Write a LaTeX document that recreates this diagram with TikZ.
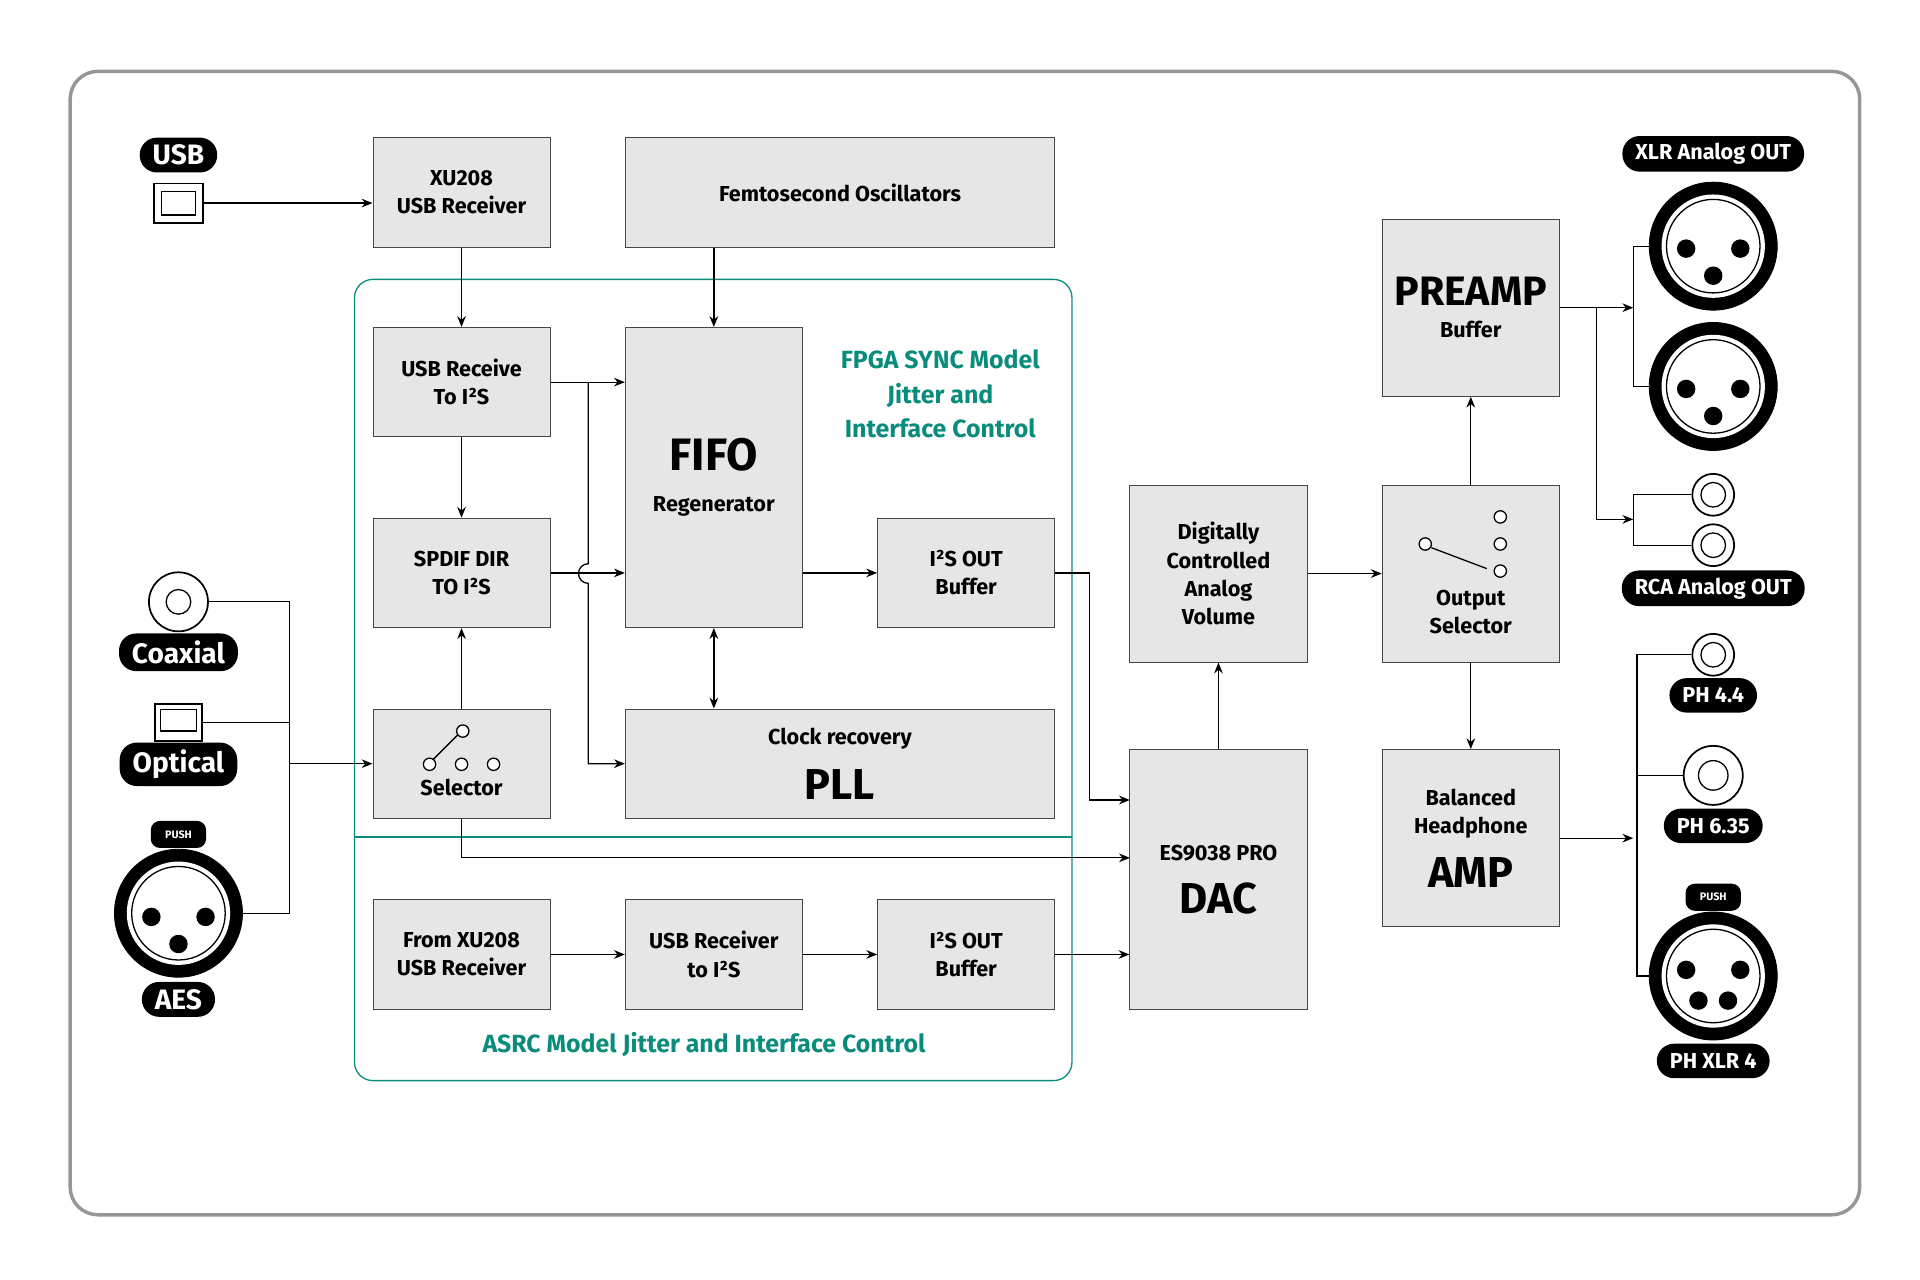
\documentclass[tikz,border=0pt]{standalone}
\usepackage{fontspec}
\setmainfont{Fira Sans}
\usetikzlibrary{arrows.meta, positioning}
\definecolor{boxfill}{RGB}{230,230,230}
\definecolor{boxline}{RGB}{70,70,70}
\definecolor{teal}{RGB}{10,140,125}
\definecolor{frame}{RGB}{150,150,150}
\tikzset{
    box/.style={rectangle, draw=boxline, fill=boxfill, minimum width=2.88cm, minimum height=1.78cm, align=center, font=\fontsize{10}{13}\selectfont\bfseries},
    badge/.style={rectangle, rounded corners=0.28cm, fill=black, text=white, inner xsep=6pt, minimum height=0.56cm, font=\fontsize{13}{15}\selectfont\bfseries},
    smallbadge/.style={badge, font=\fontsize{10}{12}\selectfont\bfseries},
    push/.style={rectangle, rounded corners=0.15cm, fill=black, text=white, minimum width=0.9cm, minimum height=0.44cm, inner sep=1pt, font=\fontsize{5}{6}\selectfont\bfseries},
    jack/.style={circle, draw=black, fill=black, minimum size=2.08cm, inner sep=0pt},
    rca/.style={circle, draw=black, line width=0.8pt, fill=white, minimum size=#1, inner sep=0pt},
    arr/.style={-{Stealth[length=5pt,width=4pt]}, semithick},
    line/.style={semithick}
}
\begin{document}
\begin{tikzpicture}[x=0.02cm, y=-0.02cm]
    \useasboundingbox (0,0) rectangle (1560,1040);
    % frame
    \draw[frame, line width=1.6pt, rounded corners=0.45cm] (57,58) rectangle (1511,987);

    % FPGA / ASRC regions
    \draw[teal, semithick, rounded corners=0.3cm] (288,227) rectangle (871,878);
    \draw[teal, semithick] (288,680) -- (871,680);
    \node[teal, align=center, font=\fontsize{11.5}{16}\selectfont\bfseries] (fpgalbl) at (764,320) {FPGA SYNC Model\\Jitter and\\Interface Control};
    \node[teal, font=\fontsize{11.5}{14}\selectfont\bfseries] (asrclbl) at (572,849) {ASRC Model Jitter and Interface Control};

    % blocks
    \node[box] (xu208) at (375,156.5) {XU208\\USB Receiver};
    \node[box, minimum width=6.98cm] (femto) at (682.5,156.5) {Femtosecond Oscillators};
    \node[box] (usbrx) at (375,310.5) {USB Receive\\To I²S};
    \node[box, minimum height=4.88cm] (fifo) at (580,388) {{\fontsize{21}{24}\selectfont FIFO}\\[6pt]Regenerator};
    \node[box] (spdif) at (375,465.5) {SPDIF DIR\\TO I²S};
    \node[box] (i2sout1) at (785,465.5) {I²S OUT\\Buffer};
    \node[box] (selector) at (375,620.5) {};
    \node[font=\fontsize{10}{13}\selectfont\bfseries] (sellbl) at (375,640) {Selector};
    \node[box, minimum width=6.98cm] (pll) at (682.5,620.5) {Clock recovery\\[8pt]{\fontsize{20}{22}\selectfont PLL}};
    \node[box] (fromxu) at (375,775.5) {From XU208\\USB Receiver};
    \node[box] (usbrx2) at (580,775.5) {USB Receiver\\to I²S};
    \node[box] (i2sout2) at (785,775.5) {I²S OUT\\Buffer};
    \node[box, minimum height=2.88cm] (dcav) at (990,466) {Digitally\\Controlled\\Analog\\Volume};
    \node[box, minimum height=4.22cm] (dac) at (990,714.5) {ES9038 PRO\\[9pt]{\fontsize{20}{22}\selectfont DAC}};
    \node[box, minimum height=2.88cm] (preamp) at (1195,250) {{\fontsize{19}{22}\selectfont PREAMP}\\[2pt]Buffer};
    \node[box, minimum height=2.88cm] (outsel) at (1195,466) {};
    \node[font=\fontsize{10}{13}\selectfont\bfseries, align=center] (outsellbl) at (1195,497) {Output\\Selector};
    \node[box, minimum height=2.88cm] (amp) at (1195,681) {Balanced\\Headphone\\[8pt]{\fontsize{20}{22}\selectfont AMP}};

    % switch symbols
    \foreach \x in {349,375,401}
        \draw[line, fill=white] (\x,621) circle[radius=0.1cm];
    \draw[line] (352,617) -- (372,597);
    \draw[line, fill=white] (376,594) circle[radius=0.1cm];
    \foreach \y in {420,442,464}
        \draw[line, fill=white] (1219,\y) circle[radius=0.1cm];
    \draw[line, fill=white] (1158,442) circle[radius=0.1cm];
    \draw[line] (1163,445) -- (1208,462);

    % inputs
    \node[badge] (usbb) at (145,126) {USB};
    \node[draw=black, line width=0.8pt, fill=white, minimum width=0.8cm, minimum height=0.64cm] (usbport) at (145,165) {};
    \draw[line] ([shift={(4pt,-4pt)}]usbport.north west) rectangle ([shift={(-4pt,4pt)}]usbport.south east);
    \node[rca=0.96cm] (coax) at (145,489) {};
    \draw[line] (coax.center) circle[radius=0.2cm];
    \node[badge] (coaxb) at (145,530) {Coaxial};
    \node[draw=black, line width=0.8pt, fill=white, minimum width=0.76cm, minimum height=0.6cm] (optical) at (145,587) {};
    \draw[line] ([shift={(3pt,-3pt)}]optical.north west) rectangle ([shift={(-3pt,5pt)}]optical.south east);
    \node[badge] (opticalb) at (145,621) {Optical};
    \node[jack] (aes) at (145,742) {};
    \fill[white] (aes.center) circle[radius=0.84cm];
    \draw[line] (aes.center) circle[radius=0.76cm];
    \foreach \dx/\dy in {-22/3, 22/3, 0/25}
        \fill ([shift={(\dx,\dy)}]aes.center) circle[radius=0.15cm];
    \node[push] (aespush) at (145,678) {PUSH};
    \node[badge] (aesb) at (145,812) {AES};

    % outputs
    \node[smallbadge] (xlrb) at (1392,125) {XLR Analog OUT};
    \foreach \n/\y in {xlrA/200, xlrB/314} {
        \node[jack] (\n) at (1392,\y) {};
        \fill[white] (\n.center) circle[radius=0.84cm];
        \draw[line] (\n.center) circle[radius=0.76cm];
        \foreach \dx/\dy in {-22/2, 22/2, 0/24}
            \fill ([shift={(\dx,\dy)}]\n.center) circle[radius=0.15cm];
    }
    \node[rca=0.68cm] (rcaA) at (1392,402) {};
    \draw[line] (rcaA.center) circle[radius=0.2cm];
    \node[rca=0.68cm] (rcaB) at (1392,443) {};
    \draw[line] (rcaB.center) circle[radius=0.2cm];
    \node[smallbadge] (rcab) at (1392,478) {RCA Analog OUT};
    \node[rca=0.68cm] (ph44) at (1392,532) {};
    \draw[line] (ph44.center) circle[radius=0.2cm];
    \node[smallbadge] (ph44b) at (1392,565) {PH 4.4};
    \node[rca=0.96cm] (ph635) at (1392,630) {};
    \draw[line] (ph635.center) circle[radius=0.24cm];
    \node[smallbadge] (ph635b) at (1392,671) {PH 6.35};
    \node[jack] (phxlr) at (1392,793) {};
    \fill[white] (phxlr.center) circle[radius=0.84cm];
    \draw[line] (phxlr.center) circle[radius=0.76cm];
    \foreach \dx/\dy in {-22/-5, 22/-5, -12/20, 12/20}
        \fill ([shift={(\dx,\dy)}]phxlr.center) circle[radius=0.15cm];
    \node[push] (phpush) at (1392,729) {PUSH};
    \node[smallbadge] (phxlrb) at (1392,862) {PH XLR 4};

    % connectors
    \draw[arr] (usbport.east) -- (usbport.east -| xu208.west);
    \draw[arr] (xu208) -- (usbrx);
    \draw[arr] (femto.south -| fifo) -- (fifo.north);
    \draw[arr] (usbrx) -- (spdif);
    \draw[arr] (usbrx.east) -- (usbrx.east -| fifo.west);
    \coordinate (br) at (478,310.5);
    \draw[arr] (br) -- (478,458) arc[start angle=90, end angle=270, radius=0.16cm] -- (478,620.5) -- (pll.west);
    \draw[arr] (spdif.east) -- (spdif.east -| fifo.west);
    \draw[arr] (selector) -- (spdif);
    \coordinate (jn) at (235,620.5);
    \draw[line] (coax.east) -| (jn);
    \draw[line] (optical.east) -| (jn);
    \draw[line] (aes.east) -| (jn);
    \draw[arr] (jn) -- (selector.west);
    \draw[arr, {Stealth[length=5pt,width=4pt]}-{Stealth[length=5pt,width=4pt]}] (fifo.south) -- (fifo.south |- pll.north);
    \draw[arr] (fifo.east |- i2sout1.west) -- (i2sout1.west);
    \draw[arr] (i2sout1.east) -- (885,465.5) -- (885,650) -- (918,650);
    \draw[arr] (selector.south) -- (375,697) -- (918,697);
    \draw[arr] (fromxu) -- (usbrx2);
    \draw[arr] (usbrx2) -- (i2sout2);
    \draw[arr] (i2sout2.east) -- (i2sout2.east -| dac.west);
    \draw[arr] (dac) -- (dcav);
    \draw[arr] (dcav) -- (outsel);
    \draw[arr] (outsel) -- (preamp);
    \draw[arr] (outsel) -- (amp);
    \draw[arr] (preamp.east) -- (1327,250);
    \draw[arr] (1297,250) -- (1297,422) -- (1327,422);
    \draw[line] (xlrA.west) -- (1327,200) -- (1327,314) -- (xlrB.west);
    \draw[line] (rcaA.west) -- (1327,402) -- (1327,443) -- (rcaB.west);
    \draw[arr] (amp.east) -- (1327,681);
    \draw[line] (ph44.west) -- (1330,532) -- (1330,793) -- (phxlr.west);
    \draw[line] (ph635.west) -- (1330,630);
\end{tikzpicture}
\end{document}
